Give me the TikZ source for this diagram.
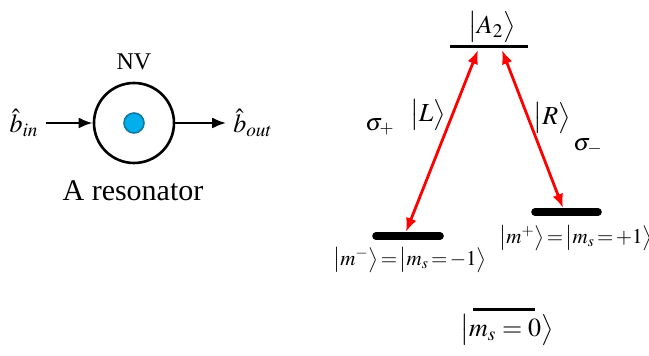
\documentclass[tikz,border=0pt]{standalone}
\usepackage{mathptmx}
\usepackage{fontspec}
\setmainfont{Liberation Serif}
\usepackage{tikz}
\usetikzlibrary{arrows.meta}
\definecolor{nvfill}{RGB}{0,175,235}
\definecolor{nvedge}{RGB}{20,120,160}
\newcommand{\eqs}{\mkern-2mu=\mkern-2mu}

\begin{document}
\begin{tikzpicture}[x=0.5pt, y=-0.5pt, font=\fontsize{13}{15}\selectfont,
    level/.style={line width=1.5pt},
    fatlevel/.style={line width=3.8pt, line cap=round},
    ket/.style={font=\fontsize{10.5}{12}\selectfont, inner sep=1pt},
    pol/.style={font=\fontsize{12}{14}\selectfont},
    trans/.style={red, line width=1.4pt, {Latex[length=7pt,width=5.5pt]}-{Latex[length=7pt,width=5.5pt]}},
    flow/.style={line width=1.3pt, -{Latex[length=7pt,width=5.5pt]}}]
    \useasboundingbox (0,0) rectangle (649,356);

    % Resonator with the NV centre
    \node[circle, draw, line width=1.3pt, minimum size=40pt, inner sep=0pt] (res) at (134,123) {};
    \node[circle, draw=nvedge, fill=nvfill, line width=0.8pt, minimum size=10pt, inner sep=0pt] (nv) at (res.center) {};
    \node[font=\fontsize{12}{14}\selectfont] (nvlab) at (134,62) {NV};
    \node[font=\fontsize{15}{18}\selectfont] (reslab) at (133,191) {A resonator};

    % Input and output fields
    \node (bin) at (24,123) {$\hat{b}_{in}$};
    \node (bout) at (253,123) {$\hat{b}_{out}$};
    \draw[flow] (bin) -- (res);
    \draw[flow] (res) -- (bout);

    % Levels
    \coordinate (a2w) at (450,47);  \coordinate (a2e) at (528,47);
    \coordinate (mmw) at (376,236); \coordinate (mme) at (440,236);
    \coordinate (mpw) at (535,212); \coordinate (mpe) at (598,212);
    \coordinate (m0w) at (473,310); \coordinate (m0e) at (535,310);
    \draw[level] (a2w) -- (a2e);
    \draw[fatlevel] (mmw) -- (mme);
    \draw[fatlevel] (mpw) -- (mpe);
    \draw[level] (m0w) -- (m0e);

    % Level labels
    \node (a2lab) at (492,27) {$\bigl|A_2\bigr\rangle$};
    \node[ket] (mmlab) at (410,260) {$\bigl|m^{-}\bigr\rangle\!=\!\bigl|m_s\eqs-1\bigr\rangle$};
    \node[ket] (mplab) at (576,238) {$\bigl|m^{+}\bigr\rangle\!=\!\bigl|m_s\eqs+1\bigr\rangle$};
    \node (m0lab) at (507,330) {$\bigl|m_s=0\bigr\rangle$};

    % Optical transitions
    \coordinate (ltop) at (478,50); \coordinate (lbot) at (406,232);
    \coordinate (rtop) at (502,50); \coordinate (rbot) at (563,208);
    \draw[trans] (lbot) -- (ltop);
    \draw[trans] (rtop) -- (rbot);
    \node[pol] (sigp) at (380,127) {$\sigma_{+}$};
    \node (ketL) at (428,115) {$\bigl|L\bigr\rangle$};
    \node (ketR) at (552,118) {$\bigl|R\bigr\rangle$};
    \node[pol] (sigm) at (588,147) {$\sigma_{-}$};
\end{tikzpicture}
\end{document}
